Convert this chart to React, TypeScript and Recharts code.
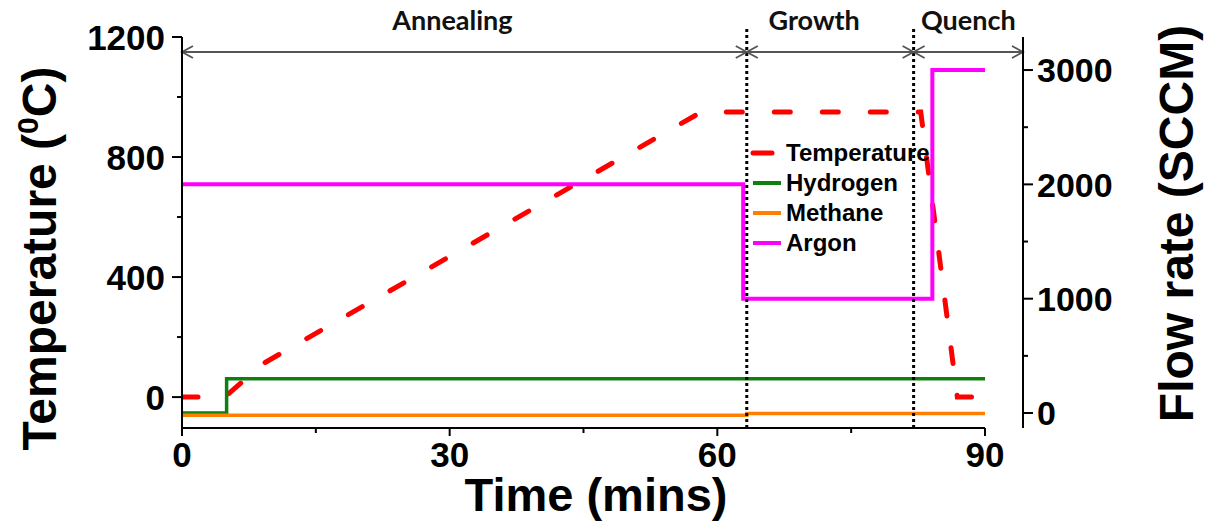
import React from "react";
import { ComposedChart, Line, XAxis, YAxis, ReferenceLine, Legend } from "recharts";

/* axis ticks (minor ticks drawn without labels) */
const TIME_TICKS = [0, 15, 30, 45, 60, 75, 90];
const TIME_LABELS = [0, 30, 60, 90];
const TEMP_TICKS = [0, 200, 400, 600, 800, 1000, 1200];
const TEMP_LABELS = [0, 400, 800, 1200];
const FLOW_TICKS = [0, 500, 1000, 1500, 2000, 2500, 3000];
const FLOW_LABELS = [0, 1000, 2000, 3000];

/* series: t in mins, v in degC or SCCM */
const temperature = [
  { t: 0, v: 0 },
  { t: 4.8, v: 0 },
  { t: 9, v: 110 },
  { t: 58.2, v: 950 },
  { t: 82.8, v: 950 },
  { t: 86.9, v: 0 },
  { t: 90, v: 0 },
];
const hydrogen = [
  { t: 0, v: 0 },
  { t: 5, v: 300 },
  { t: 90, v: 300 },
];
const methane = [
  { t: 0, v: -20 },
  { t: 63.3, v: -5 },
  { t: 90, v: -5 },
];
const argon = [
  { t: 0, v: 2000 },
  { t: 62.9, v: 1000 },
  { t: 84.1, v: 3000 },
  { t: 90, v: 3000 },
];
const LEGEND_ORDER = ["Temperature", "Hydrogen", "Methane", "Argon"];

/* process phases */
const PHASES = [
  { name: "Annealing", from: 0, to: 63.3 },
  { name: "Growth", from: 63.3, to: 82 },
  { name: "Quench", from: 82, to: 94.26 },
];
const DIVIDERS = [63.3, 82];

/* layout */
const X_DOMAIN = [0, 94.26];
const TEMP_DOMAIN = [-103, 1200];
const FLOW_DOMAIN = [-131, 3289];
const ARROW_Y = 1150;
const DIVIDER_TOP = 1230;
const PHASE_DX = [-12, -16, 0];

const FONT = "'Liberation Sans', Arial, sans-serif";

const LeftTick = (props: any) => {
  const { x, y, payload } = props;
  const major = TEMP_LABELS.includes(payload.value);
  return (
    <g>
      <line x1={x + 10} x2={major ? x : x + 5} y1={y} y2={y} stroke="#000" strokeWidth={2} />
      {major && (
        <text x={x - 7} y={y} dy="0.36em" textAnchor="end" fontFamily={FONT} fontWeight={700} fontSize={35} fill="#000">
          {payload.value}
        </text>
      )}
    </g>
  );
};

const RightTick = (props: any) => {
  const { x, y, payload } = props;
  const major = FLOW_LABELS.includes(payload.value);
  return (
    <g>
      <line x1={x - 10} x2={major ? x : x - 5} y1={y} y2={y} stroke="#000" strokeWidth={2} />
      {major && (
        <text x={x + 4} y={y} dy="0.36em" textAnchor="start" fontFamily={FONT} fontWeight={700} fontSize={34} fill="#000">
          {payload.value}
        </text>
      )}
    </g>
  );
};

const BottomTick = (props: any) => {
  const { x, y, payload } = props;
  const major = TIME_LABELS.includes(payload.value);
  return (
    <g>
      <line x1={x} x2={x} y1={y - 10} y2={major ? y - 2 : y - 5} stroke="#000" strokeWidth={2} />
      {major && (
        <text x={x} y={y + 29} textAnchor="middle" fontFamily={FONT} fontWeight={700} fontSize={35} fill="#000">
          {payload.value}
        </text>
      )}
    </g>
  );
};

const TempTitle = (props: any) => {
  const vb = props.viewBox;
  const cx = vb.x + 56;
  const cy = vb.y + vb.height / 2 + 26;
  return (
    <text x={cx} y={cy} transform={`rotate(-90, ${cx}, ${cy})`} textAnchor="middle"
      fontFamily={FONT} fontWeight={700} fontSize={48} fill="#000">
      Temperature (<tspan fontSize={30} dy={-18}>0</tspan><tspan dy={18}>C)</tspan>
    </text>
  );
};

const FlowTitle = (props: any) => {
  const vb = props.viewBox;
  const cx = vb.x + 170;
  const cy = vb.y + vb.height / 2 - 9;
  return (
    <text x={cx} y={cy} transform={`rotate(-90, ${cx}, ${cy})`} textAnchor="middle"
      fontFamily={FONT} fontWeight={700} fontSize={48} fill="#000">
      Flow rate (SCCM)
    </text>
  );
};

const TimeTitle = (props: any) => {
  const vb = props.viewBox;
  return (
    <text x={vb.x + 414} y={vb.y + 83} textAnchor="middle"
      fontFamily={FONT} fontWeight={700} fontSize={47} fill="#000">
      Time (mins)
    </text>
  );
};

/* double-headed arrow for a phase span */
const ArrowShape = (props: any) => {
  const { x1, y1, x2, y2 } = props;
  const L = 11;
  const W = 6;
  return (
    <g stroke="#555" strokeWidth={1.8} fill="none">
      <line x1={x1} y1={y1} x2={x2} y2={y2} />
      <polyline points={`${x1 + L},${y1 - W} ${x1},${y1} ${x1 + L},${y1 + W}`} />
      <polyline points={`${x2 - L},${y2 - W} ${x2},${y2} ${x2 - L},${y2 + W}`} />
    </g>
  );
};

const phaseLabel = (name: string, dx: number) => (props: any) => {
  const vb = props.viewBox;
  return (
    <text x={vb.x + vb.width / 2 + dx} y={vb.y - 22} textAnchor="middle"
      fontFamily="Lato, 'Open Sans', sans-serif" fontWeight={700} fontSize={27} fill="#111">
      {name}
    </text>
  );
};

const LegendBox = (props: any) => {
  const payload = [...(props.payload || [])].sort(
    (a: any, b: any) => LEGEND_ORDER.indexOf(a.value) - LEGEND_ORDER.indexOf(b.value)
  );
  return (
    <div style={{ fontFamily: FONT, fontWeight: 700, fontSize: 24, color: "#000" }}>
      {payload.map((p: any) => {
        const dashed = p.value === "Temperature";
        return (
          <div key={p.value} style={{ display: "flex", alignItems: "center", height: 30 }}>
            <svg width={34} height={10} style={{ display: "block" }}>
              <line x1={3} x2={dashed ? 22 : 31} y1={5} y2={5} stroke={p.color}
                strokeWidth={dashed ? 5 : 4} strokeLinecap={dashed ? "round" : "butt"} />
            </svg>
            <span style={{ marginLeft: 2, lineHeight: "30px" }}>{p.value}</span>
          </div>
        );
      })}
    </div>
  );
};

export default function App() {
  return (
    <div style={{ position: "absolute", left: 0, top: 0, background: "#fff" }}>
      <ComposedChart width={1206} height={522} margin={{ top: 37, right: 0, bottom: 0, left: 0 }}>
        <XAxis xAxisId={0} dataKey="t" type="number" domain={X_DOMAIN} allowDataOverflow
          ticks={TIME_TICKS} interval={0} axisLine={false} tickLine={false} tickSize={10} tickMargin={0}
          tick={<BottomTick />} height={94} label={{ content: TimeTitle }} />
        <YAxis yAxisId="left" type="number" domain={TEMP_DOMAIN} allowDataOverflow
          ticks={TEMP_TICKS} interval={0} width={182} tickLine={false} tickSize={10} tickMargin={0}
          axisLine={{ stroke: "#000", strokeWidth: 2 }} tick={<LeftTick />} label={{ content: TempTitle }} />
        <YAxis yAxisId="right" orientation="right" type="number" domain={FLOW_DOMAIN} allowDataOverflow
          ticks={FLOW_TICKS} interval={0} width={183} tickLine={false} tickSize={10} tickMargin={0}
          axisLine={{ stroke: "#000", strokeWidth: 2 }} tick={<RightTick />} label={{ content: FlowTitle }} />

        {/* x axis line stops at 90 while the plot runs on to the right axis */}
        <ReferenceLine yAxisId="left" ifOverflow="visible" stroke="#000" strokeWidth={2}
          segment={[{ x: 0, y: TEMP_DOMAIN[0] }, { x: 90, y: TEMP_DOMAIN[0] }]} />

        <Line yAxisId="left" data={temperature} dataKey="v" name="Temperature" type="linear"
          stroke="#ff0000" strokeWidth={5} strokeDasharray="16 32" strokeLinecap="round"
          dot={false} activeDot={false} isAnimationActive={false} />
        <Line yAxisId="right" data={hydrogen} dataKey="v" name="Hydrogen" type="stepAfter"
          stroke="#0f7f0f" strokeWidth={3.5} dot={false} activeDot={false} isAnimationActive={false} />
        <Line yAxisId="right" data={methane} dataKey="v" name="Methane" type="stepAfter"
          stroke="#ff8000" strokeWidth={3.5} dot={false} activeDot={false} isAnimationActive={false} />
        <Line yAxisId="right" data={argon} dataKey="v" name="Argon" type="stepAfter"
          stroke="#ff00ff" strokeWidth={4} dot={false} activeDot={false} isAnimationActive={false} />

        {DIVIDERS.map((d) => (
          <ReferenceLine key={d} yAxisId="left" ifOverflow="visible" stroke="#000" strokeWidth={3}
            strokeDasharray="3 3" segment={[{ x: d, y: TEMP_DOMAIN[0] }, { x: d, y: DIVIDER_TOP }]} />
        ))}
        {PHASES.map((p, i) => (
          <ReferenceLine key={p.name} yAxisId="left" ifOverflow="visible" shape={ArrowShape}
            segment={[{ x: p.from, y: ARROW_Y }, { x: p.to, y: ARROW_Y }]}
            label={{ content: phaseLabel(p.name, PHASE_DX[i]) }} />
        ))}

        <Legend layout="vertical" align="center" verticalAlign="middle" content={<LegendBox />}
          wrapperStyle={{ left: 750, top: 138, width: 200, height: 120 }} />
      </ComposedChart>
    </div>
  );
}
